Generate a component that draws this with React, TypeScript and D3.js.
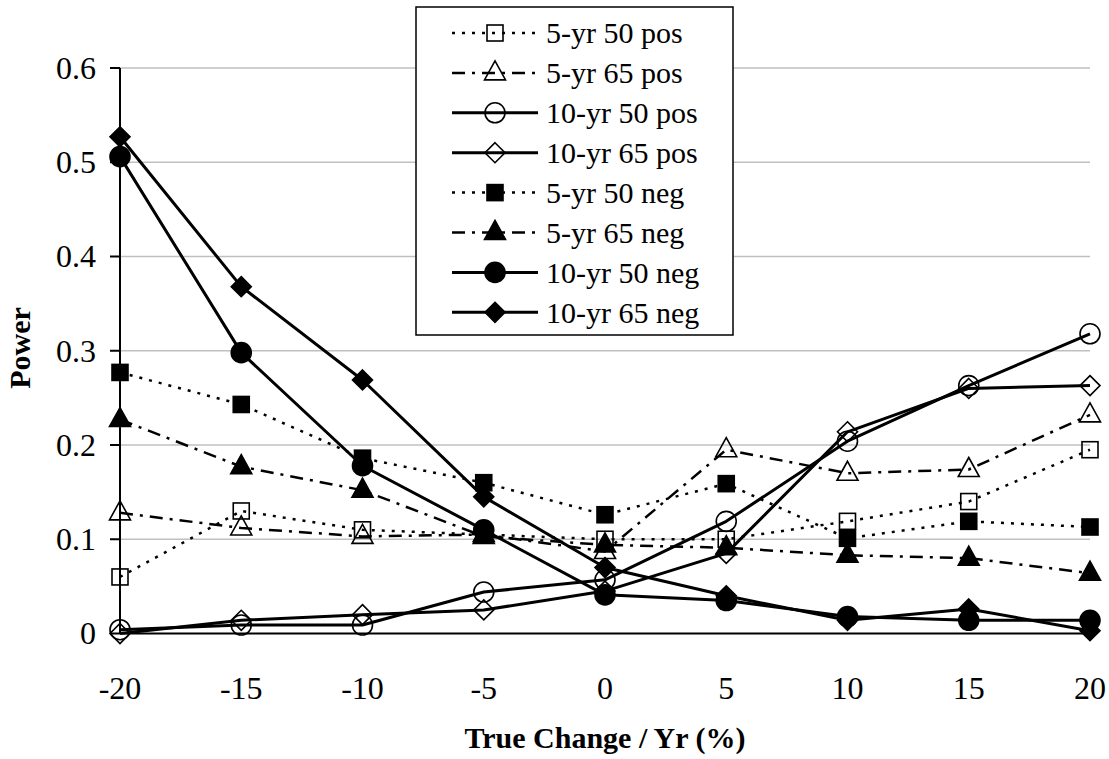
import React from "react";
import * as d3 from "d3";

const xValues = [-20, -15, -10, -5, 0, 5, 10, 15, 20];
const yTicks = [0, 0.1, 0.2, 0.3, 0.4, 0.5, 0.6];

const s5yr50pos = [0.06, 0.13, 0.11, 0.105, 0.1, 0.1, 0.119, 0.14, 0.195];
const s5yr65pos = [0.128, 0.112, 0.103, 0.105, 0.087, 0.195, 0.17, 0.174, 0.232];
const s10yr50pos = [0.004, 0.009, 0.009, 0.044, 0.057, 0.119, 0.204, 0.263, 0.318];
const s10yr65pos = [0.0, 0.014, 0.02, 0.025, 0.045, 0.085, 0.214, 0.26, 0.263];
const s5yr50neg = [0.277, 0.243, 0.186, 0.16, 0.126, 0.159, 0.101, 0.119, 0.113];
const s5yr65neg = [0.227, 0.177, 0.152, 0.103, 0.094, 0.091, 0.083, 0.08, 0.064];
const s10yr50neg = [0.506, 0.298, 0.178, 0.11, 0.041, 0.035, 0.018, 0.014, 0.014];
const s10yr65neg = [0.527, 0.368, 0.269, 0.145, 0.07, 0.04, 0.014, 0.026, 0.003];

const seriesNames = [
  "5-yr 50 pos",
  "5-yr 65 pos",
  "10-yr 50 pos",
  "10-yr 65 pos",
  "5-yr 50 neg",
  "5-yr 65 neg",
  "10-yr 50 neg",
  "10-yr 65 neg",
];
const seriesValues = [s5yr50pos, s5yr65pos, s10yr50pos, s10yr65pos, s5yr50neg, s5yr65neg, s10yr50neg, s10yr65neg];
const seriesMarkers = ["square", "triangle", "circle", "diamond", "square", "triangle", "circle", "diamond"];
const seriesFilled = [false, false, false, false, true, true, true, true];
const seriesDash = ["dot", "dashdot", "solid", "solid", "dot", "dashdot", "solid", "solid"];

const W = 1109;
const H = 759;
const X0 = 120;
const X1 = 1090;
const Y0 = 633.5;
const Y1 = 68;

function dashArray(d: string) {
  if (d === "dot") return "3,7";
  if (d === "dashdot") return "13,7,3,7";
  return undefined;
}
function lineWidth(d: string) {
  return d === "solid" ? 3 : 2.5;
}

function Marker({ type, filled, x, y }: { type: string; filled: boolean; x: number; y: number }) {
  const fill = filled ? "#000" : "none";
  const sw = 1.6;
  if (type === "square") {
    const s = 16;
    return <rect x={x - s / 2} y={y - s / 2} width={s} height={s} fill={fill} stroke="#000" strokeWidth={sw} />;
  }
  if (type === "circle") {
    return <circle cx={x} cy={y} r={10} fill={fill} stroke="#000" strokeWidth={sw} />;
  }
  if (type === "triangle") {
    const p = `${x},${y - 12} ${x + 10.5},${y + 7} ${x - 10.5},${y + 7}`;
    return <polygon points={p} fill={fill} stroke="#000" strokeWidth={sw} />;
  }
  const r = 10;
  const p = `${x},${y - r} ${x + r},${y} ${x},${y + r} ${x - r},${y}`;
  return <polygon points={p} fill={fill} stroke="#000" strokeWidth={sw} />;
}

const txt = { fontFamily: "'Liberation Serif', monospace" };

export default function App() {
  const x = d3.scaleLinear().domain([-20, 20]).range([X0, X1]);
  const y = d3.scaleLinear().domain([0, 0.6]).range([Y0, Y1]);
  const line = d3
    .line<number>()
    .x((_, i) => x(xValues[i]))
    .y((d) => y(d));

  const legX = 416;
  const legY = 7;
  const legW = 317;
  const legH = 328;
  const rowY = (i: number) => 33 + i * 39.9;

  return (
    <svg width={W} height={H} style={{ position: "absolute", left: 0, top: 0, background: "#fff" }}>
      <rect x={0} y={0} width={W} height={H} fill="#fff" />
      {yTicks.filter((t) => t > 0).map((t) => (
        <line key={t} x1={X0} x2={X1} y1={y(t)} y2={y(t)} stroke="#c0c0c0" strokeWidth={1.3} />
      ))}
      <line x1={X0} x2={X1} y1={y(0)} y2={y(0)} stroke="#000" strokeWidth={2} />
      <line x1={X0} x2={X0} y1={y(0.6)} y2={y(0)} stroke="#000" strokeWidth={2} />
      {yTicks.map((t) => (
        <g key={t}>
          <line x1={X0 - 10} x2={X0} y1={y(t)} y2={y(t)} stroke="#000" strokeWidth={2} />
          <text x={96} y={y(t)} dy="0.34em" textAnchor="end" fontSize={32} style={txt}>
            {d3.format("")(t)}
          </text>
        </g>
      ))}
      {xValues.map((v) => (
        <text key={v} x={x(v)} y={699} textAnchor="middle" fontSize={32} style={txt}>
          {v}
        </text>
      ))}
      {seriesValues.map((vals, si) => (
        <g key={si}>
          <path
            d={line(vals) || ""}
            fill="none"
            stroke="#000"
            strokeWidth={lineWidth(seriesDash[si])}
            strokeDasharray={dashArray(seriesDash[si])}
            strokeLinejoin="round"
          />
          {vals.map((v, i) => (
            <Marker key={i} type={seriesMarkers[si]} filled={seriesFilled[si]} x={x(xValues[i])} y={y(v)} />
          ))}
        </g>
      ))}
      <text x={605} y={748} textAnchor="middle" fontSize={30} fontWeight="bold" style={txt}>
        True Change / Yr (%)
      </text>
      <text transform={`translate(30,348) rotate(-90)`} textAnchor="middle" fontSize={30} fontWeight="bold" style={txt}>
        Power
      </text>
      <rect x={legX} y={legY} width={legW} height={legH} fill="#fff" stroke="#000" strokeWidth={1.5} />
      {seriesNames.map((name, i) => (
        <g key={name}>
          <line
            x1={452}
            x2={538}
            y1={rowY(i)}
            y2={rowY(i)}
            stroke="#000"
            strokeWidth={lineWidth(seriesDash[i])}
            strokeDasharray={dashArray(seriesDash[i])}
          />
          <Marker type={seriesMarkers[i]} filled={seriesFilled[i]} x={495} y={rowY(i)} />
          <text x={546} y={rowY(i)} dy="0.34em" fontSize={30} style={txt}>
            {name}
          </text>
        </g>
      ))}
    </svg>
  );
}
